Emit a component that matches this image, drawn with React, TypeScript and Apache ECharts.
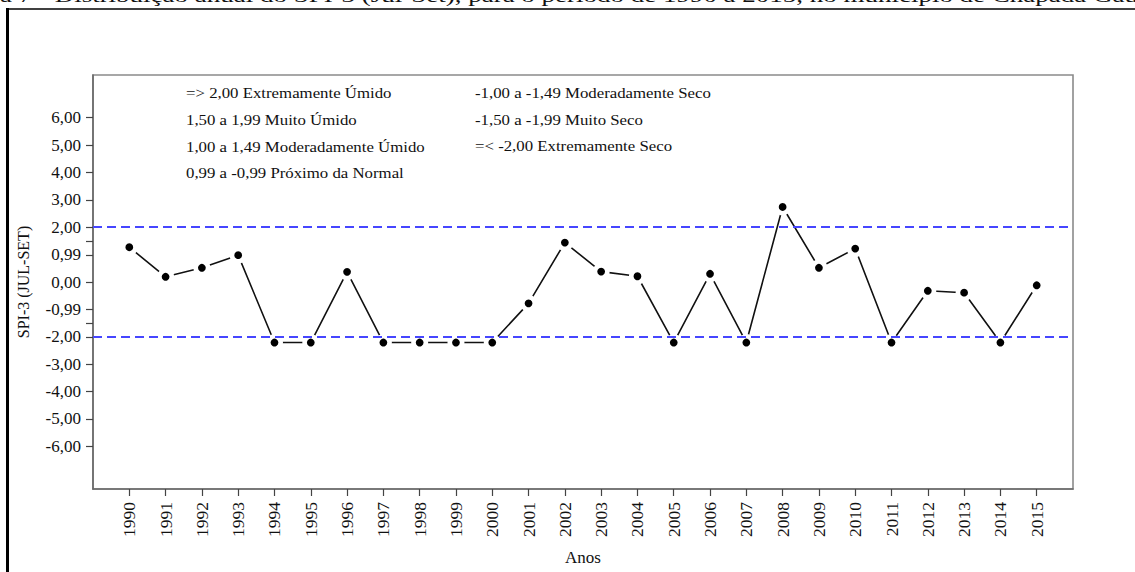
import React, { useEffect, useRef } from "react";
import * as echarts from "echarts";

const years = [
  1990, 1991, 1992, 1993, 1994, 1995, 1996, 1997, 1998, 1999, 2000, 2001, 2002,
  2003, 2004, 2005, 2006, 2007, 2008, 2009, 2010, 2011, 2012, 2013, 2014, 2015,
];
const spi3 = [
  1.27, 0.19, 0.52, 0.98, -2.21, -2.21, 0.37, -2.21, -2.21, -2.21, -2.21, -0.78,
  1.44, 0.38, 0.21, -2.21, 0.3, -2.21, 2.74, 0.52, 1.22, -2.21, -0.32, -0.39,
  -2.21, -0.12,
];
const yLabelValues = [6, 5, 4, 3, 2, 0.99, 0, -0.99, -2, -3, -4, -5, -6];
const yTickValues = [6, 5, 4, 3, 2, 1.5, 0.99, 0, -0.99, -1.5, -2, -3, -4, -5, -6];
const thresholds = [2, -2];
const legendLeft = [
  "=> 2,00 Extremamente Úmido",
  "1,50 a 1,99 Muito Úmido",
  "1,00 a 1,49 Moderadamente Úmido",
  "0,99 a -0,99 Próximo da Normal",
];
const legendRight = [
  "-1,00 a -1,49 Moderadamente Seco",
  "-1,50 a -1,99 Muito Seco",
  "=< -2,00 Extremamente Seco",
];
const caption =
  "a 7 - Distribuição anual do SPI-3 (Jul-Set), para o período de 1990 a 2015, no município de Chapada Gaúcha";

const FONT = "'Liberation Serif', 'Times New Roman', serif";

export default function App() {
  const ref = useRef<HTMLDivElement>(null);
  useEffect(() => {
    document.body.style.margin = "0";
    if (!ref.current) return;
    const chart = echarts.init(ref.current, null, { renderer: "svg" });
    const fmt = (v: number) => v.toFixed(2).replace(".", ",");
    const legendEls: any[] = [];
    const leftY = [93.5, 120.5, 147.3, 173.5];
    legendLeft.forEach((t, i) =>
      legendEls.push({
        type: "text",
        x: 186,
        y: leftY[i],
        scaleX: 1.2,
        style: {
          text: t,
          font: `14px ${FONT}`,
          fill: "#111",
          textAlign: "left",
          textVerticalAlign: "middle",
        },
      })
    );
    const rightY = [93, 119.7, 146.3];
    legendRight.forEach((t, i) =>
      legendEls.push({
        type: "text",
        x: 475,
        y: rightY[i],
        scaleX: 1.2,
        style: {
          text: t,
          font: `14px ${FONT}`,
          fill: "#111",
          textAlign: "left",
          textVerticalAlign: "middle",
        },
      })
    );
    chart.setOption({
      animation: false,
      backgroundColor: "#fff",
      grid: {
        left: 93,
        right: 62,
        top: 75,
        bottom: 83,
        show: true,
        borderColor: "#8a8a8a",
        borderWidth: 1.6,
        backgroundColor: "transparent",
      },
      xAxis: {
        type: "value",
        min: 1989,
        max: 2016,
        name: "Anos",
        nameLocation: "middle",
        nameGap: 60,
        nameTextStyle: { fontFamily: FONT, fontSize: 17, color: "#111" },
        axisLine: {
          show: true,
          onZero: false,
          lineStyle: { color: "#6a6a6a", width: 1.6 },
        },
        axisTick: {
          show: true,
          length: 7,
          customValues: years,
          lineStyle: { color: "#444", width: 1.2 },
        },
        axisLabel: {
          customValues: years,
          rotate: 90,
          margin: 13,
          fontFamily: FONT,
          fontSize: 17.5,
          color: "#111",
          formatter: (v: number) => String(v),
        },
        splitLine: { show: false },
      },
      yAxis: {
        type: "value",
        min: -7.56,
        max: 7.56,
        name: "SPI-3 (JUL-SET)",
        nameLocation: "middle",
        nameGap: 62,
        nameTextStyle: { fontFamily: FONT, fontSize: 16, color: "#111" },
        axisLine: {
          show: true,
          onZero: false,
          lineStyle: { color: "#6a6a6a", width: 1.6 },
        },
        axisTick: {
          show: true,
          length: 7,
          customValues: yTickValues,
          lineStyle: { color: "#444", width: 1.2 },
        },
        axisLabel: {
          customValues: yLabelValues,
          margin: 12,
          fontFamily: FONT,
          fontSize: 17,
          color: "#111",
          formatter: (v: number) => fmt(v),
        },
        splitLine: { show: false },
      },
      series: [
        {
          type: "line",
          z: 2,
          data: years.map((y, i) => [y, spi3[i]]),
          symbol: "circle",
          symbolSize: 12.4,
          showAllSymbol: true,
          lineStyle: { color: "#111", width: 1.6 },
          itemStyle: { color: "#000", borderColor: "#fff", borderWidth: 4.6 },
        },
        {
          type: "line",
          z: 5,
          data: [],
          markLine: {
            silent: true,
            symbol: "none",
            label: { show: false },
            lineStyle: { color: "#4646ff", width: 2, type: [9, 5] },
            data: thresholds.map((t) => ({ yAxis: t })),
          },
        },
      ],
      graphic: [
        {
          type: "text",
          x: 0,
          y: 4.5,
          scaleX: 1.42,
          style: {
            text: caption,
            font: `19px ${FONT}`,
            fill: "#111",
            textAlign: "left",
            textVerticalAlign: "bottom",
          },
        },
        {
          type: "line",
          shape: { x1: 7.5, y1: 8, x2: 7.5, y2: 572 },
          style: { stroke: "#000", lineWidth: 3 },
        },
        {
          type: "line",
          shape: { x1: 6, y1: 9, x2: 1135, y2: 9 },
          style: { stroke: "#000", lineWidth: 1.5 },
        },
        ...legendEls,
      ],
    });
    return () => chart.dispose();
  }, []);
  return <div ref={ref} style={{ width: 1135, height: 572 }} />;
}
